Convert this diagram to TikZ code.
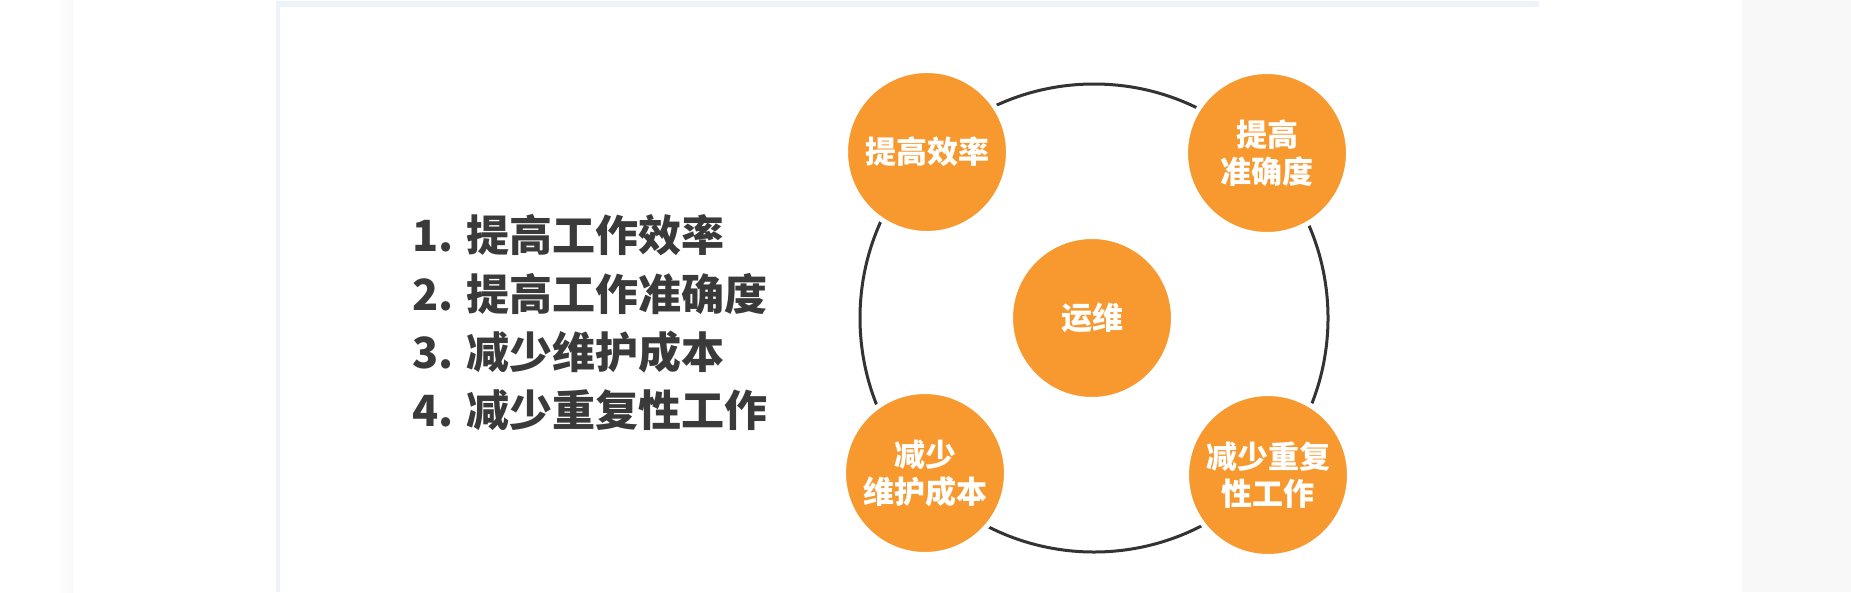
\documentclass[tikz,border=0pt]{standalone}
\usepackage{fontspec}
\newfontfamily\cjk{Noto Sans CJK SC}
\definecolor{orangefill}{HTML}{F7992F}
\definecolor{ringgray}{HTML}{333333}
\definecolor{textgray}{HTML}{3A3A3A}
\definecolor{framblue}{HTML}{EEF3FA}
\definecolor{sidegray}{HTML}{F8F8F8}
\tikzset{
  bubble/.style={circle, fill=orangefill, draw=white, line width=5pt,
    minimum size=163pt, inner sep=0pt, text=white, align=center,
    font=\cjk\bfseries\fontsize{31}{37}\selectfont},
  listline/.style={anchor=west, inner sep=0pt, text=textgray,
    font=\cjk\bfseries\fontsize{43}{50}\selectfont},
}
\begin{document}
\begin{tikzpicture}[x=1pt,y=-1pt]
\useasboundingbox (0,0) rectangle (1851,592);
\fill[white] (0,0) rectangle (1851,592);
% side shading bands
\shade[left color=white, right color=sidegray] (57,0) rectangle (73,592);
\fill[sidegray] (1742,0) rectangle (1851,592);
% inner frame borders
\fill[framblue] (276,1) rectangle (279.5,592);
\fill[framblue] (276,1) rectangle (1539,6.5);
% ring
\node[circle, draw=ringgray, line width=3pt, minimum size=468pt, inner sep=0pt] (ring) at (1094,318) {};
% bubbles
\node[bubble] (c) at (1092,318) {运维};
\node[bubble] (tl) at (927,152) {提高效率};
\node[bubble] (tr) at (1267,153) {提高\\准确度};
\node[bubble] (bl) at (925,473) {减少\\维护成本};
\node[bubble] (br) at (1268,475) {减少重复\\性工作};
% list
\node[listline] (l1) at (412,235) {1. 提高工作效率};
\node[listline] (l2) at (412,294) {2. 提高工作准确度};
\node[listline] (l3) at (412,352) {3. 减少维护成本};
\node[listline] (l4) at (412,410) {4. 减少重复性工作};
\end{tikzpicture}
\end{document}
